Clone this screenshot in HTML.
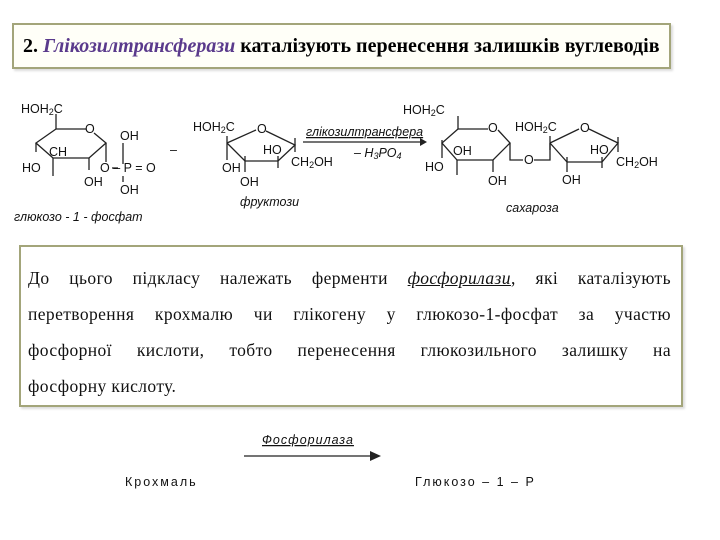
<!DOCTYPE html>
<html><head><meta charset="utf-8"><style>
body{margin:0;width:720px;height:540px;background:#fff;position:relative;overflow:hidden;font-family:"Liberation Sans",sans-serif}
.t{position:absolute;left:12px;top:23px;width:655px;height:42px;border:2px solid #a3a57a;background:#fffff8;box-shadow:2px 2px 2px #ddd}
.t span{position:absolute;left:9px;top:10px;font:bold 20px "Liberation Serif",serif;color:#000;white-space:nowrap}
.b{position:absolute;left:19px;top:245px;width:660px;height:158px;border:2px solid #a3a57a;background:#fff;box-shadow:2px 2px 2px #ddd}
.b div{position:absolute;left:7px;width:643px;font:17.5px "Liberation Serif",serif;letter-spacing:0.4px;color:#111;white-space:nowrap}
.j{text-align:justify;text-align-last:justify}
svg{position:absolute;left:0;top:0}
svg text{font-family:"Liberation Sans",sans-serif;font-size:12.5px;fill:#111}
</style></head><body>
<div class="t"><span>2. <i style="color:#5a3a8c">Глікозилтрансферази</i> каталізують перенесення залишків вуглеводів</span></div>
<svg width="720" height="540">
<g stroke="#222" stroke-width="1.3" fill="none">
<polyline points="56,129 86,129"/><polyline points="94,133 106,143 89,158 53,158 36,143 56,129"/>
<line x1="56" y1="129" x2="56" y2="114"/><line x1="36" y1="143" x2="36" y2="152"/><line x1="53" y1="158" x2="53" y2="176"/>
<line x1="89" y1="158" x2="89" y2="170"/><line x1="106" y1="143" x2="106" y2="162"/>
<line x1="123" y1="143" x2="123" y2="164"/><line x1="123" y1="176" x2="123" y2="182"/>
<line x1="112" y1="168" x2="118" y2="168"/>
<polyline points="227,143 256,130"/><polyline points="266,131 295,145 278,161 245,161 227,143"/>
<line x1="227" y1="136" x2="227" y2="160"/><line x1="295" y1="138" x2="295" y2="152"/>
<line x1="245" y1="156" x2="245" y2="172"/><line x1="278" y1="156" x2="278" y2="168"/>
<line x1="303" y1="142" x2="420" y2="142"/>
<polyline points="458,129 488,129"/><polyline points="498,130 510,143 493,160 457,160 442,143 458,129"/>
<line x1="458" y1="129" x2="458" y2="116"/><line x1="442" y1="140" x2="442" y2="158"/><line x1="457" y1="160" x2="457" y2="175"/>
<line x1="493" y1="160" x2="493" y2="172"/>
<polyline points="510,143 510,160 523,160"/><polyline points="534,160 550,160 550,143"/>
<polyline points="550,143 579,129"/><polyline points="589,129 618,143 602,162 567,162 550,143"/>
<line x1="550" y1="136" x2="550" y2="150"/><line x1="618" y1="137" x2="618" y2="152"/>
<line x1="567" y1="157" x2="567" y2="172"/><line x1="602" y1="157" x2="602" y2="168"/>
<line x1="244" y1="456" x2="372" y2="456"/>
</g>
<polygon points="420,138 427,142 420,146" fill="#222"/>
<polygon points="370,451 381,456 370,461" fill="#222"/>
<text x="21" y="113">HOH<tspan font-size="9" dy="2">2</tspan><tspan dy="-2">C</tspan></text>
<text x="85" y="133">O</text><text x="49" y="156">CH</text><text x="22" y="172">HO</text>
<text x="84" y="186">OH</text><text x="100" y="172">O – P = O</text>
<text x="120" y="140">OH</text><text x="120" y="194">OH</text>
<text x="14" y="221" font-style="italic">глюкозо - 1 - фосфат</text>
<text x="170" y="154">–</text>
<text x="193" y="131">HOH<tspan font-size="9" dy="2">2</tspan><tspan dy="-2">C</tspan></text>
<text x="257" y="133">O</text><text x="263" y="154">HO</text>
<text x="291" y="166">CH<tspan font-size="9" dy="2">2</tspan><tspan dy="-2">OH</tspan></text>
<text x="222" y="172">OH</text><text x="240" y="186">OH</text>
<text x="240" y="206" font-style="italic">фруктози</text>
<text x="306" y="136" font-style="italic" text-decoration="underline">глікозилтрансфера</text>
<text x="354" y="157" font-style="italic">– H<tspan font-size="9" dy="2">3</tspan><tspan dy="-2">PO</tspan><tspan font-size="9" dy="2">4</tspan></text>
<text x="403" y="114">HOH<tspan font-size="9" dy="2">2</tspan><tspan dy="-2">C</tspan></text>
<text x="488" y="132">O</text><text x="453" y="155">OH</text><text x="425" y="171">HO</text><text x="488" y="185">OH</text>
<text x="524" y="164">O</text>
<text x="515" y="131">HOH<tspan font-size="9" dy="2">2</tspan><tspan dy="-2">C</tspan></text>
<text x="580" y="132">O</text><text x="590" y="154">HO</text>
<text x="616" y="166">CH<tspan font-size="9" dy="2">2</tspan><tspan dy="-2">OH</tspan></text>
<text x="562" y="184">OH</text>
<text x="506" y="212" font-style="italic">сахароза</text>
<text x="262" y="444" font-size="15" letter-spacing="1" font-style="italic" text-decoration="underline" fill="#333">Фосфорилаза</text>
<text x="125" y="486" font-size="15" letter-spacing="2" fill="#333">Крохмаль</text>
<text x="415" y="486" font-size="15" letter-spacing="2" fill="#333">Глюкозо – 1 – Р</text>
</svg>
<div class="b">
<div class="j" style="top:21px">До цього підкласу належать ферменти <u><i>фосфорилази</i></u>, які каталізують</div>
<div class="j" style="top:57px">перетворення крохмалю чи глікогену у глюкозо-1-фосфат за участю</div>
<div class="j" style="top:93px">фосфорної кислоти, тобто перенесення глюкозильного залишку на</div>
<div style="top:129px">фосфорну кислоту.</div>
</div>
</body></html>
